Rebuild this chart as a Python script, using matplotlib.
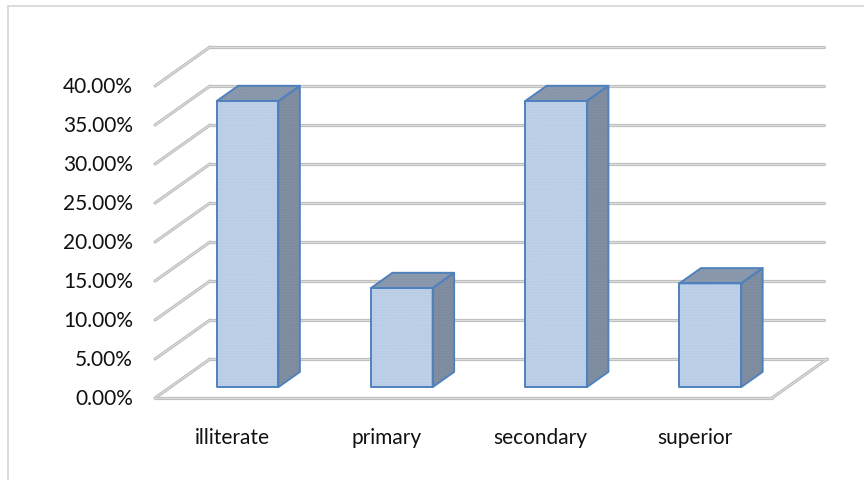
import matplotlib
matplotlib.use('Agg')
import matplotlib.pyplot as plt
from matplotlib.patches import Polygon
from matplotlib.lines import Line2D

plt.rcParams['font.family'] = ['Lato', 'DejaVu Sans']
plt.rcParams['hatch.linewidth'] = 0.4

# data
categories = ['illiterate', 'primary', 'secondary', 'superior']
shares = [0.3667, 0.127, 0.3667, 0.133]
ticks = [0.0, 0.05, 0.10, 0.15, 0.20, 0.25, 0.30, 0.35, 0.40]

# oblique projection: x in category slots, v in value units, z = depth (0 front, 1 back)
DX, DY = 0.3566, 0.05
def proj(x, v, z):
    return (x + z * DX, v + z * DY)

fig = plt.figure(figsize=(8.64, 4.81), dpi=100)
ax = fig.add_axes([0, 0, 1, 1])
ax.set_xlim(-1.005, 4.596)
ax.set_ylim(-0.1051, 0.5115)
ax.axis('off')

grid_dark = '#c0c0c0'
grid_light = '#e2e2e2'

def grid_line(p1, p2):
    ax.plot([p1[0], p2[0]], [p1[1], p2[1]], color=grid_dark, lw=2.3,
            solid_capstyle='round', zorder=1)
    ax.plot([p1[0], p2[0]], [p1[1], p2[1]], color=grid_light, lw=0.6,
            solid_capstyle='round', zorder=1.1)

n = len(categories)

# floor
floor = [proj(0, 0, 0), proj(n, 0, 0), proj(n, 0, 1), proj(0, 0, 1)]
for a, b in zip(floor, floor[1:] + floor[:1]):
    grid_line(a, b)

# gridlines on side and back walls
for t in ticks[1:]:
    grid_line(proj(0, t, 0), proj(0, t, 1))
    grid_line(proj(0, t, 1), proj(n - 0.02, t, 1))

# value axis labels
for t in ticks:
    ax.text(-0.143, t, f'{t * 100:.2f}%', ha='right', va='center',
            fontsize=15, color='#111111')

# category labels
for i, c in enumerate(categories):
    ax.text(i + 0.5, -0.05, c, ha='center', va='center',
            fontsize=15, color='#111111')

front_col = '#b9cde6'
side_col = '#7d8b9e'
top_col = '#8896ab'
edge_col = '#4f81bd'
z0, z1, half = 0.28, 0.67, 0.2

def face(pts, fc, hatch_col):
    ax.add_patch(Polygon(pts, closed=True, facecolor=fc, edgecolor='none', zorder=3))
    ax.add_patch(Polygon(pts, closed=True, facecolor='none', edgecolor=hatch_col,
                         hatch='......', lw=0, zorder=3.1))
    ax.add_patch(Polygon(pts, closed=True, facecolor='none', edgecolor=edge_col,
                         lw=1.4, joinstyle='round', zorder=3.2))

for i, v in enumerate(shares):
    x0, x1 = i + 0.5 - half, i + 0.5 + half
    front = [proj(x0, 0, z0), proj(x1, 0, z0), proj(x1, v, z0), proj(x0, v, z0)]
    side = [proj(x1, 0, z0), proj(x1, 0, z1), proj(x1, v, z1), proj(x1, v, z0)]
    top = [proj(x0, v, z0), proj(x1, v, z0), proj(x1, v, z1), proj(x0, v, z1)]
    face(side, side_col, '#8a97a8')
    face(top, top_col, '#939fb2')
    face(front, front_col, '#c9d8ec')

# chart border (top and left edges)
fig.add_artist(Line2D([8 / 864, 8 / 864], [0, 1 - 7 / 481], color='#d9d9d9', lw=1.3))
fig.add_artist(Line2D([8 / 864, 1], [1 - 7 / 481, 1 - 7 / 481], color='#d9d9d9', lw=1.3))

fig.savefig('out.png', dpi=100, facecolor='white')
